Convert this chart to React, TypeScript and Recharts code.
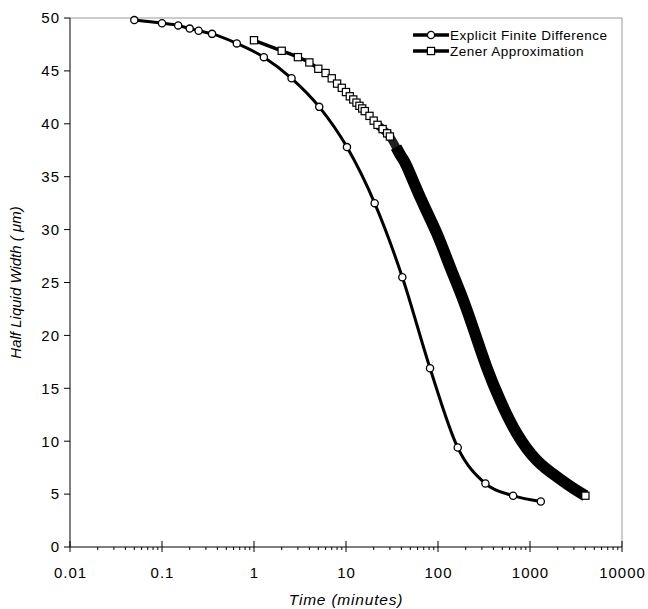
import React from "react";
import { LineChart, Line, XAxis, YAxis, ReferenceLine } from "recharts";

// Explicit finite difference (minutes, µm)
const efdTime = [0.05, 0.1, 0.15, 0.2, 0.25, 0.35, 0.65, 1.28, 2.56, 5.12, 10.24, 20.48, 40.96, 81.92, 163.84, 327.68, 655.36, 1310.72];
const efdWidth = [49.8, 49.5, 49.3, 49.0, 48.8, 48.5, 47.6, 46.3, 44.3, 41.6, 37.8, 32.5, 25.5, 16.9, 9.4, 6.0, 4.85, 4.3];

// Zener approximation (minutes, µm)
const zenerTime = [1, 2, 3, 4, 5, 6, 7, 8, 9, 10, 11, 12, 13, 14, 15, 16, 18, 20, 22, 25, 28, 30, 35, 40, 46, 66, 97, 135, 188, 252, 338, 472, 717, 1183, 1950, 2955, 4000];
const zenerWidth = [47.9, 46.9, 46.3, 45.8, 45.2, 44.8, 44.3, 43.8, 43.4, 43.0, 42.6, 42.3, 42.0, 41.7, 41.45, 41.2, 40.75, 40.3, 39.9, 39.5, 39.1, 38.8, 37.8, 36.9, 35.95, 32.8, 29.65, 26.5, 23.35, 20.2, 17.0, 13.9, 10.75, 8.2, 6.65, 5.55, 4.85];

const majorTicks = [0.01, 0.1, 1, 10, 100, 1000, 10000];
const majorLabels = ["0.01", "0.1", "1", "10", "100", "1000", "10000"];
const minorSteps = [2, 3, 4, 5, 6, 7, 8, 9];
const yTicks = [0, 5, 10, 15, 20, 25, 30, 35, 40, 45, 50];

const xTicks = [
  ...majorTicks,
  ...majorTicks.slice(0, -1).flatMap((d) => minorSteps.map((m) => +(d * m).toPrecision(3))),
].sort((a, b) => a - b);

const efdData = efdTime.map((t, i) => ({ t, w: efdWidth[i] }));
const zenerAll = zenerTime.map((t, i) => ({ t, w: zenerWidth[i] }));
// squares still separate early on; later they merge into a solid band
const zenerMarked = zenerAll.filter((d) => d.t <= 30);
const zenerBlend = zenerAll.filter((d) => d.t >= 22 && d.t <= 66);
const zenerBand = zenerAll.filter((d) => d.t >= 35);

const FONT = "'Liberation Sans', Arial, sans-serif";

function CircleDot(p: any) {
  if (p.cx == null) return <g key={p.index} />;
  return <circle key={p.index} cx={p.cx} cy={p.cy} r={3.6} fill="#fff" stroke="#000" strokeWidth={1.3} />;
}

function SquareDot(p: any) {
  if (p.cx == null) return <g key={p.index} />;
  return <rect key={p.index} x={p.cx - 3.6} y={p.cy - 3.6} width={7.2} height={7.2} fill="#fff" stroke="#000" strokeWidth={1.2} />;
}

function EndSquare(p: any) {
  if (p.cx == null || p.index !== zenerBand.length - 1) return <g key={p.index} />;
  return <rect key={p.index} x={p.cx - 3.6} y={p.cy - 3.6} width={7.2} height={7.2} fill="#fff" stroke="#000" strokeWidth={1.2} />;
}

function XTick({ x, y, payload }: any) {
  const idx = majorTicks.indexOf(payload.value);
  const major = idx >= 0;
  return (
    <g>
      <line x1={x} x2={x} y1={major ? y - 6 : y} y2={major ? y + 5 : y + 3} stroke="#000" strokeWidth={1} />
      {major && (
        <text x={x + 0.5} y={y + 31} textAnchor="middle" fontSize={15} letterSpacing={1} fontFamily={FONT} fill="#000">
          {majorLabels[idx]}
        </text>
      )}
    </g>
  );
}

function YTick({ x, y, payload }: any) {
  return (
    <text x={x + 1} y={y} dy="0.355em" textAnchor="end" fontSize={15} letterSpacing={1} fontFamily={FONT} fill="#000">
      {payload.value}
    </text>
  );
}

function LegendRow({ label, square }: { label: string; square: boolean }) {
  return (
    <div style={{ display: "flex", alignItems: "center", height: 16 }}>
      <svg width={36} height={12} style={{ display: "block" }}>
        <line x1={0} x2={36} y1={6} y2={6} stroke="#000" strokeWidth={3.5} />
        {square ? (
          <rect x={14.4} y={2.4} width={7.2} height={7.2} fill="#fff" stroke="#000" strokeWidth={1.2} />
        ) : (
          <circle cx={18} cy={6} r={3.6} fill="#fff" stroke="#000" strokeWidth={1.3} />
        )}
      </svg>
      <span style={{ marginLeft: 1, fontSize: 13.5, letterSpacing: 0.5, fontFamily: FONT, color: "#000", whiteSpace: "nowrap" }}>
        {label}
      </span>
    </div>
  );
}

export default function App() {
  return (
    <div style={{ position: "absolute", left: 0, top: 0, width: 648, height: 609, background: "#fff" }}>
      <LineChart width={648} height={609} margin={{ top: 18, right: 26, left: 10, bottom: 22 }}>
        <XAxis
          dataKey="t"
          type="number"
          scale="log"
          domain={[0.01, 10000]}
          ticks={xTicks}
          allowDataOverflow
          tick={<XTick />}
          tickLine={false}
          tickSize={0}
          tickMargin={0}
          interval={0}
          height={40}
          axisLine={{ stroke: "#000", strokeWidth: 1 }}
          label={{
            value: "Time (minutes)",
            position: "insideBottom",
            offset: -18,
            fontSize: 15.5,
            letterSpacing: 0.8,
            fontStyle: "italic",
            fontFamily: FONT,
            fill: "#000",
          }}
        />
        <YAxis
          dataKey="w"
          type="number"
          domain={[0, 50]}
          ticks={yTicks}
          interval={0}
          width={60}
          tickSize={6}
          tickMargin={5}
          axisLine={{ stroke: "#000", strokeWidth: 1 }}
          tickLine={{ stroke: "#000" }}
          tick={<YTick />}
          label={{
            value: "Half Liquid Width ( \u03bcm)",
            angle: -90,
            position: "insideLeft",
            offset: 6,
            style: { textAnchor: "middle" },
            fontSize: 15,
            fontStyle: "italic",
            fontFamily: FONT,
            fill: "#000",
          }}
        />
        <ReferenceLine y={50} stroke="#999" strokeWidth={1} />
        <ReferenceLine x={10000} stroke="#999" strokeWidth={1} />
        <Line
          data={zenerBlend}
          dataKey="w"
          type="natural"
          stroke="#222"
          strokeWidth={8.5}
          dot={false}
          activeDot={false}
          legendType="none"
          isAnimationActive={false}
        />
        <Line
          data={zenerBand}
          dataKey="w"
          type="natural"
          stroke="#000"
          strokeWidth={11.5}
          dot={EndSquare}
          activeDot={false}
          legendType="none"
          isAnimationActive={false}
        />
        <Line
          data={zenerMarked}
          dataKey="w"
          name="Zener Approximation"
          type="monotone"
          stroke="#000"
          strokeWidth={3.5}
          dot={SquareDot}
          activeDot={false}
          isAnimationActive={false}
        />
        <Line
          data={efdData}
          dataKey="w"
          name="Explicit Finite Difference"
          type="monotone"
          stroke="#000"
          strokeWidth={3}
          dot={CircleDot}
          activeDot={false}
          isAnimationActive={false}
        />
      </LineChart>
      <div style={{ position: "absolute", left: 413, top: 27 }}>
        <LegendRow label="Explicit Finite Difference" square={false} />
        <LegendRow label="Zener Approximation" square />
      </div>
    </div>
  );
}
